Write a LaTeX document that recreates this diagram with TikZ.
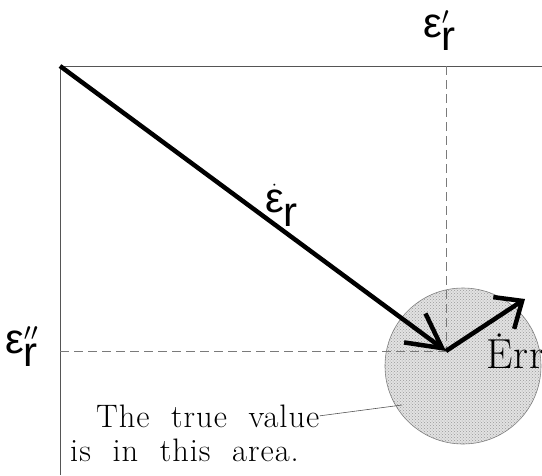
\documentclass[tikz,border=0pt]{standalone}
\usepackage{fontspec}
\usepackage{amsmath}
\newfontfamily\greekfont{Liberation Sans}
\newfontfamily\notefont[LetterSpace=3,WordSpace=2]{Latin Modern Roman}
\usetikzlibrary{arrows.meta,patterns}
\definecolor{axisgray}{HTML}{555555}
\definecolor{guidegray}{HTML}{7A7A7A}
\definecolor{areagray}{HTML}{E2E2E2}
\definecolor{ink}{HTML}{000000}

\begin{document}
\begin{tikzpicture}[
  x=1pt, y=-1pt,
  axis/.style={draw=axisgray, line width=1pt},
  guide/.style={draw=guidegray, line width=0.8pt, dash pattern=on 9pt off 5pt},
  vec/.style={draw=ink, line width=4.5pt},
  leader/.style={draw=axisgray, line width=0.6pt},
  area/.style={circle, draw=gray, preaction={fill=areagray},
    pattern=crosshatch dots, pattern color=gray!80, line width=0.6pt,
    minimum size=156pt, inner sep=0pt},
  symbol/.style={font=\greekfont\fontsize{42}{46}\selectfont, inner sep=0pt},
  note/.style={font=\notefont\fontsize{32.5}{36}\selectfont, inner sep=0pt}
]
\useasboundingbox (0,0) rectangle (542,475);

\coordinate (orig) at (60,66);
\coordinate (xend) at (542,66);
\coordinate (yend) at (60,475);
\coordinate (tip) at (446,351);
\coordinate (errtip) at (525,299);
\coordinate (ldr) at (402,405);

\node[area] (errarea) at (463,366) {};

\draw[axis] (orig) -- (xend);
\draw[axis] (orig) -- (yend);
\draw[guide] (tip |- orig) -- (tip);
\draw[guide] (orig |- tip) -- (tip);

\draw[vec, -{Straight Barb[length=34pt, width=36pt]}] (orig) -- (tip);
\draw[vec, -{Straight Barb[length=22pt, width=38pt]}] (tip) -- (errtip);

\node[symbol, anchor=base west] (epsre) at (423,37)
  {$\text{ε}_{\textstyle\text{r}}^{\prime}$};
\node[symbol, anchor=base west] (epsim) at (5,353)
  {$\text{ε}_{\textstyle\text{r}}^{\prime\prime}$};
\node[symbol, anchor=base west] (epsdot) at (265,212)
  {$\dot{\text{ε}}_{\textstyle\text{r}}$};

\node[note, anchor=base west, font=\notefont\fontsize{42}{46}\selectfont] (err) at (486,368) {\.Err};

\node[note, anchor=base west] (truev) at (96,427) {The true value};
\node[note, anchor=base west] (truea) at (70,461) {is in this area.};
\draw[leader] (truev.east) -- (ldr);

\end{tikzpicture}
\end{document}
